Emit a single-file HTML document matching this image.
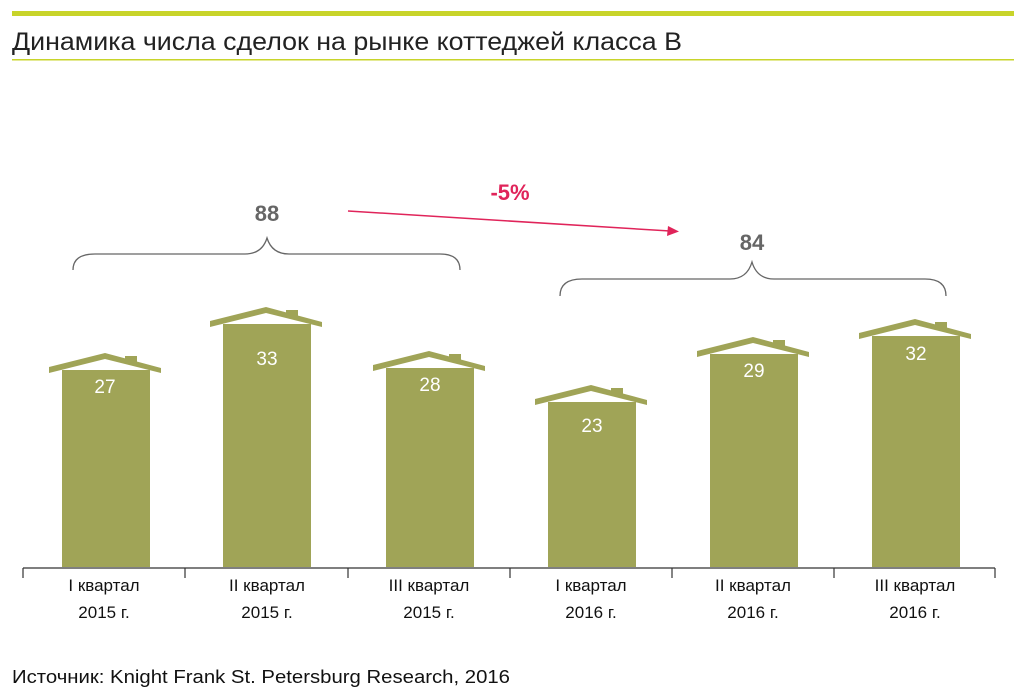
<!DOCTYPE html>
<html><head><meta charset="utf-8"><style>
body{margin:0;background:#fff;}
svg{display:block;font-family:"Liberation Sans",sans-serif;}
</style></head><body>
<svg width="1014" height="688" viewBox="0 0 1014 688">
<rect x="12" y="11" width="1002" height="5" fill="#c8d42a"/>
<rect x="12" y="59" width="1002" height="1.5" fill="#c8d42a"/>
<text x="12" y="50" font-size="25" fill="#222" textLength="670" lengthAdjust="spacingAndGlyphs">Динамика числа сделок на рынке коттеджей класса B</text>
<g fill="#a0a457">
<g transform="translate(62,370)"><rect x="0" y="0" width="88" height="197"/><polygon points="-13,-3 43,-17 99,-2 99,3 43,-11 -13,3"/><rect x="63" y="-14" width="12" height="6"/></g>
<g transform="translate(223,324)"><rect x="0" y="0" width="88" height="243"/><polygon points="-13,-3 43,-17 99,-2 99,3 43,-11 -13,3"/><rect x="63" y="-14" width="12" height="6"/></g>
<g transform="translate(386,368)"><rect x="0" y="0" width="88" height="199"/><polygon points="-13,-3 43,-17 99,-2 99,3 43,-11 -13,3"/><rect x="63" y="-14" width="12" height="6"/></g>
<g transform="translate(548,402)"><rect x="0" y="0" width="88" height="165"/><polygon points="-13,-3 43,-17 99,-2 99,3 43,-11 -13,3"/><rect x="63" y="-14" width="12" height="6"/></g>
<g transform="translate(710,354)"><rect x="0" y="0" width="88" height="213"/><polygon points="-13,-3 43,-17 99,-2 99,3 43,-11 -13,3"/><rect x="63" y="-14" width="12" height="6"/></g>
<g transform="translate(872,336)"><rect x="0" y="0" width="88" height="231"/><polygon points="-13,-3 43,-17 99,-2 99,3 43,-11 -13,3"/><rect x="63" y="-14" width="12" height="6"/></g>
</g>
<g fill="#fff" font-size="19" text-anchor="middle">
<text x="105" y="393">27</text><text x="267" y="365">33</text><text x="430" y="391">28</text>
<text x="592" y="432">23</text><text x="754" y="377">29</text><text x="916" y="360">32</text>
</g>
<g stroke="#333" stroke-width="1.2">
<line x1="23" y1="568" x2="995" y2="568"/>
<line x1="23" y1="568" x2="23" y2="578"/><line x1="185" y1="568" x2="185" y2="578"/><line x1="348" y1="568" x2="348" y2="578"/><line x1="510" y1="568" x2="510" y2="578"/><line x1="672" y1="568" x2="672" y2="578"/><line x1="834" y1="568" x2="834" y2="578"/><line x1="995" y1="568" x2="995" y2="578"/>
</g>
<g font-size="17" fill="#111" text-anchor="middle">
<text x="104" y="591">I квартал</text><text x="104" y="618">2015 г.</text>
<text x="267" y="591">II квартал</text><text x="267" y="618">2015 г.</text>
<text x="429" y="591">III квартал</text><text x="429" y="618">2015 г.</text>
<text x="591" y="591">I квартал</text><text x="591" y="618">2016 г.</text>
<text x="753" y="591">II квартал</text><text x="753" y="618">2016 г.</text>
<text x="915" y="591">III квартал</text><text x="915" y="618">2016 г.</text>
</g>
<g fill="none" stroke="#666" stroke-width="1.3">
<path d="M73,270 Q73,254 95,254 L245,254 Q262,254 267,238 Q272,254 289,254 L440,254 Q460,254 460,270"/>
<path d="M560,296 Q560,279 582,279 L730,279 Q747,279 752,262 Q757,279 774,279 L925,279 Q946,279 946,296"/>
</g>
<g font-weight="bold" font-size="22" fill="#666" text-anchor="middle">
<text x="267" y="221">88</text><text x="752" y="250">84</text>
</g>
<line x1="348" y1="211" x2="670" y2="231" stroke="#e0245a" stroke-width="1.5"/>
<polygon points="679,231.5 668,226 667,236" fill="#e0245a"/>
<text x="510" y="200" font-weight="bold" font-size="22" fill="#e0245a" text-anchor="middle">-5%</text>
<text x="12" y="683" font-size="18" fill="#111" textLength="498" lengthAdjust="spacingAndGlyphs">Источник: Knight Frank St. Petersburg Research, 2016</text>
</svg>
</body></html>
